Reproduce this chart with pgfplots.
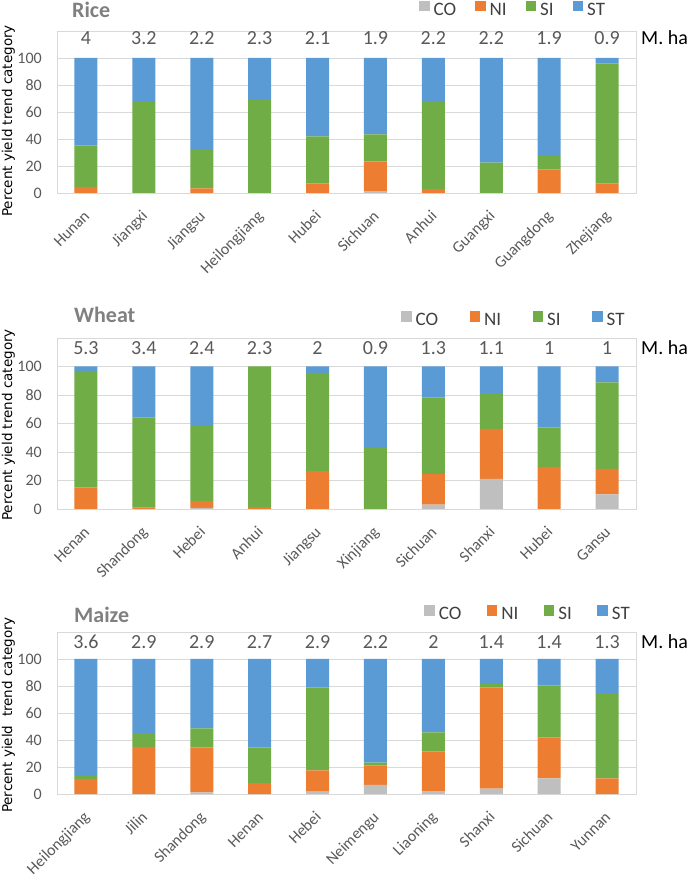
\documentclass[border=0pt]{standalone}
\usepackage{fontspec}
\setmainfont{Carlito}
\newfontfamily\ylfont{DejaVu Sans}
\usepackage{pgfplots}
\pgfplotsset{compat=1.18}
\definecolor{cCO}{HTML}{BFBFBF}
\definecolor{cNI}{HTML}{ED7D31}
\definecolor{cSI}{HTML}{70AD47}
\definecolor{cST}{HTML}{5B9BD5}
\definecolor{cGrid}{HTML}{D9D9D9}
\definecolor{cTick}{HTML}{595959}
\definecolor{cNum}{HTML}{595959}
\definecolor{cLeg}{HTML}{404040}
\definecolor{cTitle}{HTML}{808080}
\pgfplotsset{
  panel/.style={
    ybar stacked, bar width=23pt,
    scale only axis, width=579pt,
    xmin=-0.5, xmax=9.5, ymin=0, ymax=120,
    ytick={0,20,40,60,80,100},
    xtick={0,1,2,3,4,5,6,7,8,9},
    ymajorgrids, grid style={draw=cGrid, line width=0.8pt},
    axis line style={draw=cGrid, line width=0.8pt},
    major tick length=0pt, tick style={draw=none},
    tick label style={font=\fontsize{16}{18}\selectfont, text=cTick},
    yticklabel style={anchor=east, inner sep=0pt, xshift=-15pt},
    xticklabel style={anchor=base east, inner sep=0pt, xshift=4.5pt, yshift=-24pt, rotate=45},
    /pgf/number format/assume math mode=true,
    legend image code/.code={\fill[##1] (0pt,-1.5pt) rectangle (10.5pt,9pt); \path (13pt,0pt);},
    legend columns=4,
    legend style={draw=none, fill=none, anchor=west, inner sep=0pt,
      font=\fontsize{19}{21}\selectfont, nodes={inner sep=1.5pt, text=cLeg}},
    clip=false,
  },
  numaxis/.style={scale only axis, width=579pt,
    xmin=-0.5, xmax=9.5, ymin=0, ymax=120, hide axis, clip=false},
  numlab/.style={only marks, mark=*, mark size=0pt, mark options={draw=none, fill=none},
    nodes near coords, point meta=explicit symbolic,
    every node near coord/.append style={anchor=center, inner sep=0pt,
      font=\fontsize{20}{22}\selectfont, text=cNum}},
}
\begin{document}
\begin{tikzpicture}
\useasboundingbox (0,0) rectangle (688pt,883pt);
% ---------------- Rice ----------------
\begin{axis}[panel, at={(57pt,690pt)}, anchor=south west, height=162pt,
  xticklabels={Hunan,Jiangxi,Jiangsu,Heilongjiang,Hubei,Sichuan,Anhui,Guangxi,Guangdong,Zhejiang},
  legend style={at={(axis description cs:0.625,1.1327)},
    /tikz/every even column/.append style={column sep=17.5pt}}]
\addplot[fill=cCO, draw=none] coordinates {(0,0) (1,0) (2,0) (3,0) (4,0) (5,1.5) (6,0) (7,0) (8,0) (9,0)};
\addlegendentry{CO}
\addplot[fill=cNI, draw=none] coordinates {(0,4.5) (1,0) (2,3.5) (3,0) (4,7) (5,22) (6,2.8) (7,0) (8,17.5) (9,7)};
\addlegendentry{NI}
\addplot[fill=cSI, draw=none] coordinates {(0,30.5) (1,68) (2,28.5) (3,68.8) (4,35) (5,20) (6,64.6) (7,22.5) (8,10) (9,88.8)};
\addlegendentry{SI}
\addplot[fill=cST, draw=none] coordinates {(0,65) (1,32) (2,68) (3,31.2) (4,58) (5,56.5) (6,32.6) (7,77.5) (8,72.5) (9,4.2)};
\addlegendentry{ST}
\end{axis}
\begin{axis}[numaxis, at={(57pt,690pt)}, anchor=south west, height=162pt]
\addplot[numlab] coordinates {(0,114.8) [4] (1,114.8) [3.2] (2,114.8) [2.2] (3,114.8) [2.3] (4,114.8) [2.1] (5,114.8) [1.9] (6,114.8) [2.2] (7,114.8) [2.2] (8,114.8) [1.9] (9,114.8) [0.9]};
\end{axis}
% ---------------- Wheat ----------------
\begin{axis}[panel, at={(57pt,374pt)}, anchor=south west, height=171pt,
  xticklabels={Henan,Shandong,Hebei,Anhui,Jiangsu,Xinjiang,Sichuan,Shanxi,Hubei,Gansu},
  legend style={at={(axis description cs:0.594,1.105)},
    /tikz/every even column/.append style={column sep=30pt}}]
\addplot[fill=cCO, draw=none] coordinates {(0,0) (1,0) (2,0.8) (3,0) (4,0) (5,0) (6,3) (7,21.2) (8,0) (9,10.2)};
\addlegendentry{CO}
\addplot[fill=cNI, draw=none] coordinates {(0,15) (1,1.2) (2,4.7) (3,1.3) (4,26.5) (5,0) (6,21.7) (7,35.1) (8,29.5) (9,17.9)};
\addlegendentry{NI}
\addplot[fill=cSI, draw=none] coordinates {(0,82) (1,63) (2,52.9) (3,98.7) (4,69) (5,43.5) (6,53.4) (7,25.1) (8,27.7) (9,60.7)};
\addlegendentry{SI}
\addplot[fill=cST, draw=none] coordinates {(0,3) (1,35.8) (2,41.6) (3,0) (4,4.5) (5,56.5) (6,21.9) (7,18.6) (8,42.8) (9,11.2)};
\addlegendentry{ST}
\end{axis}
\begin{axis}[numaxis, at={(57pt,374pt)}, anchor=south west, height=171pt]
\addplot[numlab] coordinates {(0,113) [5.3] (1,113) [3.4] (2,113) [2.4] (3,113) [2.3] (4,113) [2] (5,113) [0.9] (6,113) [1.3] (7,113) [1.1] (8,113) [1] (9,113) [1]};
\end{axis}
% ---------------- Maize ----------------
\begin{axis}[panel, at={(57pt,89pt)}, anchor=south west, height=162pt,
  xticklabels={Heilongjiang,Jilin,Shandong,Henan,Hebei,Neimengu,Liaoning,Shanxi,Sichuan,Yunnan},
  legend style={at={(axis description cs:0.634,1.111)},
    /tikz/every even column/.append style={column sep=24pt}}]
\addplot[fill=cCO, draw=none] coordinates {(0,0) (1,0) (2,1.2) (3,0) (4,1.7) (5,6.7) (6,2.2) (7,4) (8,11.6) (9,0)};
\addlegendentry{CO}
\addplot[fill=cNI, draw=none] coordinates {(0,11) (1,35) (2,33.4) (3,8) (4,15.8) (5,14.3) (6,29.2) (7,74.8) (8,30.1) (9,11.6)};
\addlegendentry{NI}
\addplot[fill=cSI, draw=none] coordinates {(0,3) (1,10) (2,14) (3,26.6) (4,61.5) (5,2.2) (6,14.3) (7,2.7) (8,38.5) (9,62.4)};
\addlegendentry{SI}
\addplot[fill=cST, draw=none] coordinates {(0,86) (1,55) (2,51.4) (3,65.4) (4,21) (5,76.8) (6,54.3) (7,18.5) (8,19.8) (9,26)};
\addlegendentry{ST}
\end{axis}
\begin{axis}[numaxis, at={(57pt,89pt)}, anchor=south west, height=162pt]
\addplot[numlab] coordinates {(0,112.6) [3.6] (1,112.6) [2.9] (2,112.6) [2.9] (3,112.6) [2.7] (4,112.6) [2.9] (5,112.6) [2.2] (6,112.6) [2] (7,112.6) [1.4] (8,112.6) [1.4] (9,112.6) [1.3]};
\end{axis}
% titles, units, y labels
\node[anchor=west, inner sep=0pt, font=\bfseries\fontsize{22}{24}\selectfont, text=cTitle] at (72pt,873pt) {Rice};
\node[anchor=west, inner sep=0pt, font=\bfseries\fontsize{22}{24}\selectfont, text=cTitle] at (74pt,568pt) {Wheat};
\node[anchor=west, inner sep=0pt, font=\bfseries\fontsize{22}{24}\selectfont, text=cTitle] at (74pt,268pt) {Maize};
\node[anchor=west, inner sep=0pt, font=\fontsize{20}{22}\selectfont] at (641pt,845pt) {M. ha};
\node[anchor=west, inner sep=0pt, font=\fontsize{20}{22}\selectfont] at (641pt,535pt) {M. ha};
\node[anchor=west, inner sep=0pt, font=\fontsize{20}{22}\selectfont] at (641pt,241pt) {M. ha};
\node[rotate=90, inner sep=0pt, font=\ylfont\fontsize{13.5}{15}\selectfont] at (8.5pt,762pt) {Percent yield trend category};
\node[rotate=90, inner sep=0pt, font=\ylfont\fontsize{13.5}{15}\selectfont] at (8.5pt,458pt) {Percent yield trend category};
\node[rotate=90, inner sep=0pt, font=\ylfont\fontsize{13.5}{15}\selectfont] at (8.5pt,168pt) {Percent yield~~trend category};
\end{tikzpicture}
\end{document}
